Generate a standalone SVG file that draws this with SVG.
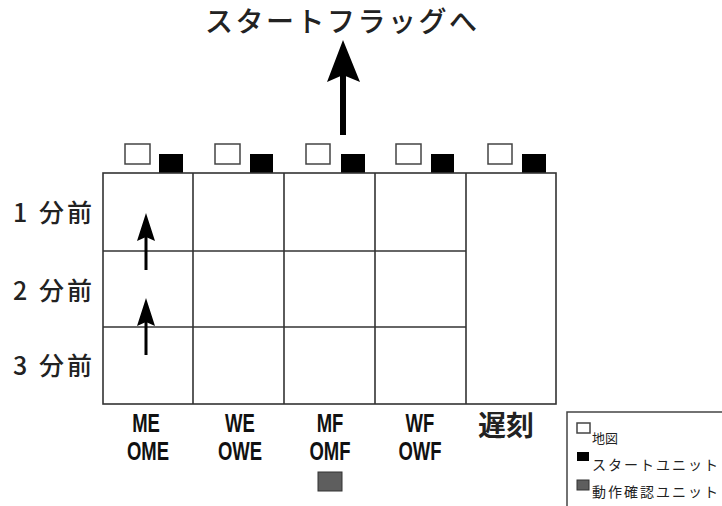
<svg xmlns="http://www.w3.org/2000/svg" width="722" height="506" viewBox="0 0 722 506">
<style>
.grid{fill:none;stroke:#333;stroke-width:1.6}
.w{fill:#fff;stroke:#444;stroke-width:1.5}
.b{fill:#000}
.g{fill:#5e5e5e;stroke:#333;stroke-width:1}
.jp{font-family:"Noto Sans CJK JP","Noto Sans",sans-serif;fill:#222}
.lbl{font-family:"Liberation Sans",Arial,sans-serif;font-weight:bold;font-size:25px;fill:#111}
.arr{fill:#000}
</style>
<rect width="722" height="506" fill="#fff"/>
<text class="jp" x="205" y="32" font-size="28" font-weight="500" textLength="272" lengthAdjust="spacing">スタートフラッグへ</text>
<g id="units">
<rect class="w" x="125" y="144" width="25" height="20"/><rect class="b" x="159" y="154" width="24" height="19"/>
<rect class="w" x="215" y="144" width="25" height="20"/><rect class="b" x="250" y="154" width="23" height="19"/>
<rect class="w" x="306" y="144" width="24" height="20"/><rect class="b" x="341" y="154" width="24" height="19"/>
<rect class="w" x="396" y="144" width="25" height="20"/><rect class="b" x="431" y="154" width="23" height="19"/>
<rect class="w" x="488" y="144" width="24" height="20"/><rect class="b" x="522" y="154" width="24" height="19"/>
</g>
<g id="grid">
<rect class="grid" x="103" y="173" width="453" height="231"/>
<line class="grid" x1="193" y1="173" x2="193" y2="404"/>
<line class="grid" x1="284" y1="173" x2="284" y2="404"/>
<line class="grid" x1="375" y1="173" x2="375" y2="404"/>
<line class="grid" x1="466" y1="173" x2="466" y2="404"/>
<line class="grid" x1="103" y1="251" x2="466" y2="251"/>
<line class="grid" x1="103" y1="327" x2="466" y2="327"/>
</g>
<g id="rowlabels">
<text class="jp" x="13" y="222" font-size="25" font-weight="500" textLength="79" lengthAdjust="spacing">1 分前</text>
<text class="jp" x="13" y="300" font-size="25" font-weight="500" textLength="79" lengthAdjust="spacing">2 分前</text>
<text class="jp" x="13" y="375" font-size="25" font-weight="500" textLength="79" lengthAdjust="spacing">3 分前</text>
</g>
<g id="connectors">
<rect class="arr" x="340" y="74" width="6" height="61"/>
<polygon class="arr" points="343,40 360,82 343,75 327,82"/>
<rect class="arr" x="144.5" y="234" width="3" height="36"/>
<polygon class="arr" points="146,213 155,241 146,237 137,241"/>
<rect class="arr" x="144.5" y="319" width="3" height="36"/>
<polygon class="arr" points="146,298 155,326 146,322 137,326"/>
</g>
<g id="collabels">
<text class="lbl" text-anchor="middle" transform="translate(146,432) scale(0.74,1)">ME</text>
<text class="lbl" text-anchor="middle" transform="translate(148,460) scale(0.74,1)">OME</text>
<text class="lbl" text-anchor="middle" transform="translate(240,432) scale(0.74,1)">WE</text>
<text class="lbl" text-anchor="middle" transform="translate(240,460) scale(0.74,1)">OWE</text>
<text class="lbl" text-anchor="middle" transform="translate(330,432) scale(0.74,1)">MF</text>
<text class="lbl" text-anchor="middle" transform="translate(330,460) scale(0.74,1)">OMF</text>
<text class="lbl" text-anchor="middle" transform="translate(420,432) scale(0.74,1)">WF</text>
<text class="lbl" text-anchor="middle" transform="translate(420,460) scale(0.74,1)">OWF</text>
<text class="jp" x="478" y="436" font-size="28" font-weight="bold">遅刻</text>
</g>
<rect class="g" x="318" y="472" width="24" height="19"/>
<g id="legend">
<rect x="567" y="412" width="200" height="120" fill="#fff" stroke="#444" stroke-width="1.5"/>
<rect class="w" x="577" y="423" width="13" height="10"/>
<text class="jp" x="592" y="443" font-size="13">地図</text>
<rect class="b" x="577" y="452" width="12" height="9"/>
<text class="jp" x="592" y="470" font-size="14" letter-spacing="2">スタートユニット</text>
<rect class="g" x="577" y="480" width="12" height="10"/>
<text class="jp" x="592" y="497" font-size="14" letter-spacing="2">動作確認ユニット</text>
</g>
</svg>
